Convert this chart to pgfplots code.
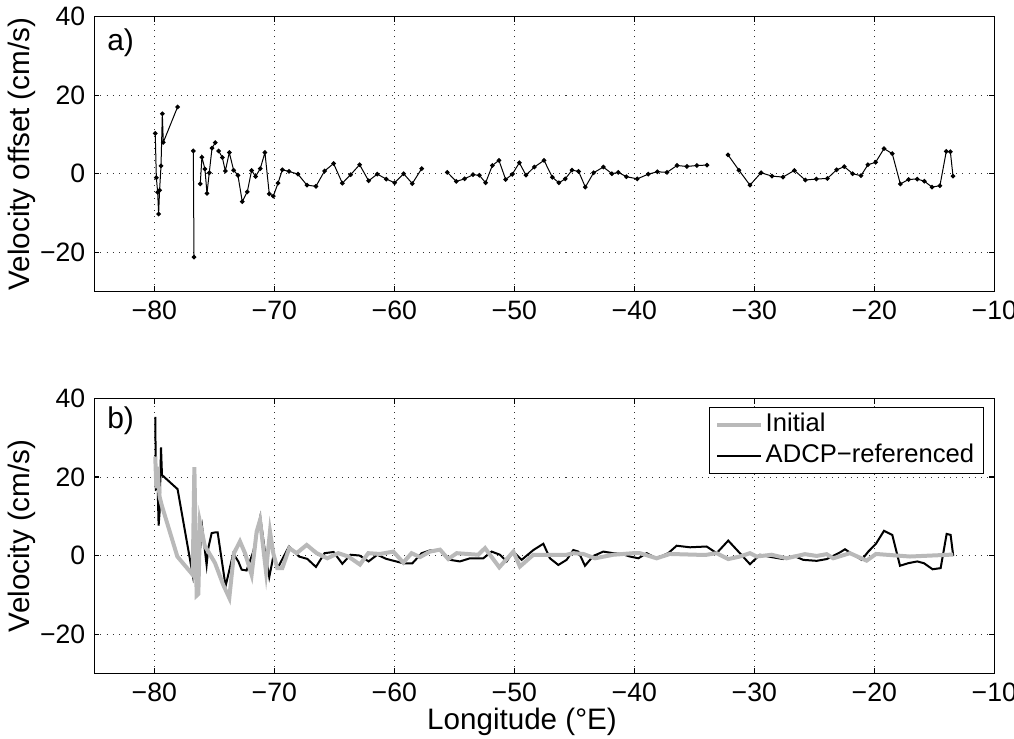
\documentclass[border=0pt]{standalone}
\usepackage{fontspec}
\setmainfont{Liberation Sans}
\usepackage{pgfplots}
\pgfplotsset{compat=1.18}
\definecolor{initgray}{RGB}{185,185,185}

\pgfplotstableread{
x y
-79.92 10.25
-79.83 -1.0
-79.72 -4.7
-79.64 -10.25
-79.56 -4.2
-79.44 2.0
-79.33 15.25
-79.25 8.0
-78.06 17.0
-77.40 nan
-76.75 5.8
-76.69 -21.2
-76.40 nan
-76.17 -2.6
-76.03 4.2
-75.78 1.2
-75.61 -5.0
-75.42 0.25
-75.19 6.5
-74.92 7.9
-74.80 nan
-74.64 5.8
-74.33 4.15
-74.08 0.7
-73.75 5.4
-73.39 0.9
-73.03 -0.4
-72.67 -7.1
-72.25 -4.6
-71.89 0.85
-71.56 -0.7
-71.17 1.3
-70.78 5.4
-70.42 -5.1
-70.08 -5.7
-69.69 -2.4
-69.33 1.0
-68.78 0.6
-68.03 -0.1
-67.28 -2.9
-66.53 -3.2
-65.81 0.7
-65.06 2.6
-64.33 -2.4
-63.64 -0.25
-62.89 2.3
-62.14 -1.8
-61.42 -0.1
-60.67 -1.35
-59.97 -2.3
-59.22 0.0
-58.50 -2.5
-57.72 1.3
-56.60 nan
-55.58 0.35
-54.83 -1.95
-54.14 -1.3
-53.44 -0.25
-52.91 -0.4
-52.39 -2.3
-51.83 2.1
-51.28 3.4
-50.72 -1.45
-50.17 -0.15
-49.58 2.8
-49.03 -0.35
-48.33 1.7
-47.52 3.4
-46.83 -0.9
-46.28 -2.3
-45.75 -1.3
-45.19 0.9
-44.64 0.6
-44.08 -3.4
-43.39 0.25
-42.58 1.7
-41.86 0.0
-41.33 0.35
-40.66 -0.75
-39.75 -1.3
-38.83 -0.1
-38.08 0.5
-37.28 0.35
-36.44 2.1
-35.61 1.85
-34.78 2.1
-33.94 2.2
-33.00 nan
-32.19 4.8
-31.28 0.9
-30.36 -2.9
-29.44 0.25
-28.53 -0.6
-27.61 -0.85
-26.66 0.85
-25.75 -1.6
-24.83 -1.35
-23.91 -1.2
-23.14 1.0
-22.50 1.8
-21.80 0.0
-21.11 -0.5
-20.53 2.3
-19.89 2.9
-19.19 6.4
-18.50 5.1
-17.83 -2.6
-17.14 -1.45
-16.42 -1.35
-15.83 -1.9
-15.19 -3.4
-14.53 -3.05
-14.00 5.7
-13.66 5.6
-13.44 -0.6
}\offsettable

\pgfplotstableread{
x y
-79.92 35.3
-79.86 17.0
-79.72 17.5
-79.64 7.6
-79.56 11.0
-79.44 27.5
-79.36 20.5
-78.06 16.9
-76.80 -4.9
-76.69 1.2
-76.47 -3.5
-76.17 2.0
-76.00 6.9
-75.64 -2.4
-75.50 1.9
-75.22 5.7
-74.92 5.9
-74.72 5.9
-74.06 -7.8
-73.42 0.5
-73.00 -1.5
-72.72 -3.6
-72.31 -3.8
-71.75 1.0
-71.17 9.8
-70.78 1.0
-70.42 -5.5
-70.08 -0.2
-69.67 -2.9
-68.78 2.3
-67.94 -0.25
-67.25 -0.85
-66.53 -2.9
-65.81 0.6
-65.06 0.9
-64.33 -2.1
-63.64 0.2
-62.89 0.0
-62.14 -1.5
-61.42 0.2
-60.67 -0.85
-59.97 -1.4
-59.22 -2.0
-58.50 -2.0
-57.72 0.6
-57.03 1.3
-56.19 1.4
-55.36 -1.1
-54.53 -1.5
-53.69 -0.7
-52.58 -0.7
-51.89 1.0
-51.19 0.2
-50.64 -1.5
-50.08 1.0
-49.39 -1.1
-48.41 1.4
-47.58 3.0
-47.03 -0.7
-46.33 -2.4
-45.64 -1.1
-45.08 1.4
-44.66 1.0
-44.11 -2.6
-43.41 -0.1
-42.58 1.0
-41.75 0.6
-41.05 0.4
-40.36 -0.25
-39.66 -0.7
-38.97 0.6
-38.14 -0.7
-37.17 0.6
-36.47 2.5
-35.36 2.1
-33.97 2.3
-33.14 0.6
-32.17 3.8
-31.20 0.6
-30.36 -2.2
-29.53 0.2
-28.56 -0.4
-27.58 -0.9
-26.69 -0.1
-25.92 -1.1
-24.80 -1.35
-23.97 -0.9
-22.86 0.8
-22.44 1.6
-21.75 0.2
-21.05 -1.1
-20.50 1.0
-19.86 3.0
-19.19 6.3
-18.50 5.25
-17.86 -2.6
-17.17 -1.95
-16.42 -1.5
-15.86 -1.95
-15.14 -3.5
-14.47 -3.2
-13.97 5.5
-13.64 5.25
-13.42 -0.1
}\adcptable

\pgfplotstableread{
x y
-79.92 25.2
-79.83 17.1
-79.72 22.6
-79.64 18.0
-79.56 15.0
-79.39 12.9
-78.08 -0.25
-76.80 -4.9
-76.66 22.5
-76.47 -10.2
-76.33 -9.8
-76.19 8.4
-75.78 2.3
-75.50 1.0
-74.94 -1.9
-74.25 -7.5
-73.75 -10.8
-73.36 0.6
-72.86 3.6
-72.44 0.6
-71.89 -4.9
-71.47 6.1
-71.19 9.0
-70.69 -4.1
-70.36 6.1
-70.08 0.5
-69.75 -3.2
-69.33 -3.2
-68.75 1.9
-68.14 0.6
-67.30 2.7
-66.47 0.6
-65.58 -0.7
-64.67 0.6
-63.83 -0.25
-62.86 -2.3
-62.17 0.6
-61.19 0.4
-60.08 1.0
-59.25 -1.8
-58.56 0.6
-57.86 -0.4
-57.03 1.0
-56.19 1.5
-55.50 -0.9
-54.80 0.6
-53.00 0.2
-52.44 1.9
-51.25 -3.0
-50.08 1.0
-49.53 -2.8
-48.41 0.2
-45.64 0.2
-45.08 0.6
-44.25 0.4
-43.27 -0.7
-41.75 0.2
-40.08 0.6
-39.53 0.6
-38.14 -0.7
-37.03 0.4
-34.81 0.2
-33.97 0.2
-33.14 0.6
-32.17 -0.9
-31.20 -0.25
-30.36 0.6
-29.80 -0.25
-28.56 0.2
-27.31 -0.7
-25.78 0.35
-24.80 -0.1
-23.97 0.35
-23.42 -0.7
-22.03 0.6
-20.64 -1.3
-19.86 0.4
-17.03 -0.25
-13.42 0.25
}\initialtable

\pgfplotsset{
  myax/.style={
    scale only axis, width=450pt, height=137.5pt,
    xmin=-85, xmax=-10, ymin=-30, ymax=40,
    xtick={-80,-70,-60,-50,-40,-30,-20,-10},
    ytick={-20,0,20,40},
    xticklabels={−80,−70,−60,−50,−40,−30,−20,−10},
    yticklabels={−20,0,20,40},
    grid=major,
    major grid style={black!80, line width=0.45pt, dash pattern=on 0.5pt off 2.6pt},
    tick align=inside, major tick length=2.6pt,
    axis line style={line width=0.65pt},
    every tick/.style={black, line width=0.6pt},
    tick label style={font=\fontsize{13.3}{16}\selectfont},
    label style={font=\fontsize{14.8}{17.8}\selectfont},
    unbounded coords=jump,
  }
}

\begin{document}
\fontsize{13}{15.6}\selectfont
\begin{tikzpicture}[font=\fontsize{13}{15.6}\selectfont]
\begin{axis}[myax, at={(0pt,0pt)}, anchor=south west,
  ylabel={Velocity offset (cm/s)},
  ylabel style={at={(axis description cs:-0.08,0.5)}, anchor=center},
]
\addplot[black, line width=0.5pt, mark=*, mark size=0.9pt] table[x=x,y=y] {\offsettable};
\node[anchor=west, inner sep=0pt, font=\fontsize{15}{18}\selectfont] at (axis description cs:0.014,0.905) {a)};
\end{axis}

\begin{axis}[myax, at={(0pt,-53.4pt)}, anchor=north west,
  ylabel={Velocity (cm/s)},
  ylabel style={at={(axis description cs:-0.08,0.5)}, anchor=center},
  xlabel={Longitude (°E)},
  xlabel style={at={(axis description cs:0.4752,-0.178)}, anchor=center},
  legend cell align=left,
  legend style={at={(axis description cs:1,1)}, anchor=north east,
    xshift=-5.15pt, yshift=-4.15pt, draw=black, line width=0.6pt,
    font=\fontsize{12.8}{15.4}\selectfont, inner xsep=3.1pt, inner ysep=0.85pt, row sep=0pt,
    nodes={inner xsep=1.5pt, inner ysep=2.3pt, text height=8.8pt, text depth=2.4pt}},
  legend image code/.code={\draw[#1] (0pt,0pt) -- (21.7pt,0pt);},
]
\addlegendimage{initgray, line width=2pt}
\addlegendentry{Initial}
\addlegendimage{black, line width=1pt}
\addlegendentry{ADCP−referenced}
\addplot[black, line width=1pt, forget plot] table[x=x,y=y] {\adcptable};
\addplot[initgray, line width=2pt, forget plot] table[x=x,y=y] {\initialtable};
\node[anchor=west, inner sep=0pt, font=\fontsize{15}{18}\selectfont] at (axis description cs:0.014,0.92) {b)};
\end{axis}

\pgfresetboundingbox
\useasboundingbox (-47.15pt,145.8pt) rectangle (459.85pt,-223.35pt);
\end{tikzpicture}
\end{document}
